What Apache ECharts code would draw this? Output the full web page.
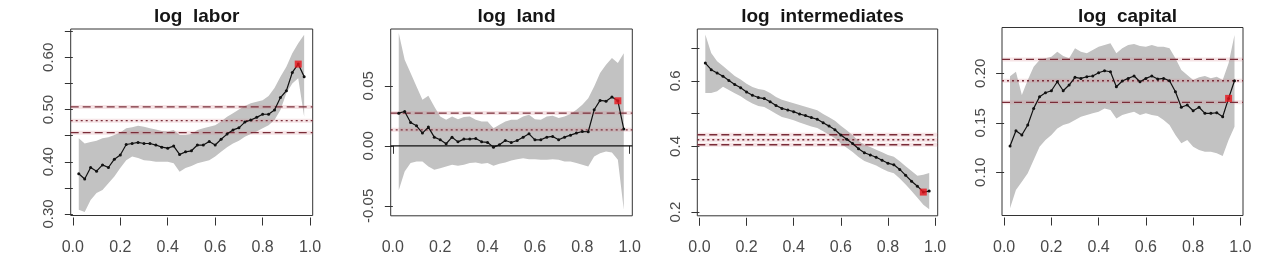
<!DOCTYPE html>
<html>
<head>
<meta charset="utf-8">
<script src="https://cdn.jsdelivr.net/npm/echarts@6/dist/echarts.min.js"></script>
<style>
  html, body { margin: 0; padding: 0; background: #fff; }
  #chart { width: 1273px; height: 266px; }
</style>
</head>
<body>
<div id="chart"></div>
<script>
// quantile grid (x) shared by the four panels
const quantiles = [0.025, 0.05, 0.075, 0.1, 0.125, 0.15, 0.175, 0.2, 0.225, 0.25,
  0.275, 0.3, 0.325, 0.35, 0.375, 0.4, 0.425, 0.45, 0.475, 0.5,
  0.525, 0.55, 0.575, 0.6, 0.625, 0.65, 0.675, 0.7, 0.725, 0.75,
  0.775, 0.8, 0.825, 0.85, 0.875, 0.9, 0.925, 0.95, 0.975];
const highlightIndex = 37; // red square at q = 0.95
const xTicks = [0, 0.2, 0.4, 0.6, 0.8, 1.0];

// log labor
const laborMedian = [0.377, 0.367, 0.389, 0.382, 0.394, 0.389, 0.405, 0.413, 0.433, 0.435,
  0.437, 0.435, 0.435, 0.432, 0.428, 0.426, 0.430, 0.414, 0.419, 0.421,
  0.432, 0.432, 0.439, 0.432, 0.443, 0.453, 0.461, 0.465, 0.476, 0.480,
  0.485, 0.491, 0.491, 0.499, 0.523, 0.536, 0.571, 0.587, 0.563];
const laborUpper = [0.445, 0.435, 0.438, 0.440, 0.445, 0.447, 0.451, 0.456, 0.464, 0.466,
  0.469, 0.467, 0.464, 0.462, 0.459, 0.458, 0.461, 0.451, 0.451, 0.453,
  0.461, 0.464, 0.467, 0.470, 0.477, 0.486, 0.493, 0.500, 0.507, 0.512,
  0.515, 0.518, 0.526, 0.541, 0.563, 0.582, 0.608, 0.627, 0.643];
const laborLower = [0.308, 0.304, 0.327, 0.340, 0.346, 0.359, 0.372, 0.388, 0.403, 0.410,
  0.407, 0.403, 0.402, 0.400, 0.400, 0.400, 0.397, 0.381, 0.388, 0.392,
  0.397, 0.400, 0.403, 0.410, 0.419, 0.428, 0.435, 0.440, 0.448, 0.453,
  0.458, 0.464, 0.470, 0.480, 0.499, 0.531, 0.550, 0.560, 0.486];
const laborDashed = [0.5049, 0.4557];
const laborDotted = [0.4786];
const laborSolid = [];
const laborYTicks = [0.30, 0.35, 0.40, 0.45, 0.50, 0.55, 0.60, 0.65];
const laborYLabels = [0.30, 0.40, 0.50, 0.60];

// log land
const landMedian = [0.0272, 0.0286, 0.0194, 0.0167, 0.0106, 0.0156, 0.0072, 0.0050, 0.0017, 0.0072,
  0.0033, 0.0056, 0.0056, 0.0061, 0.0033, 0.0028, -0.0011, 0.0008, 0.0044, 0.0028,
  0.0044, 0.0072, 0.0100, 0.0050, 0.0050, 0.0072, 0.0078, 0.0050, 0.0072, 0.0089,
  0.0106, 0.0119, 0.0117, 0.0300, 0.0378, 0.0372, 0.0406, 0.0375, 0.0140];
const landUpper = [0.0940, 0.0717, 0.0606, 0.0494, 0.0383, 0.0417, 0.0328, 0.0244, 0.0217, 0.0244,
  0.0222, 0.0239, 0.0244, 0.0217, 0.0203, 0.0203, 0.0147, 0.0175, 0.0203, 0.0217,
  0.0217, 0.0244, 0.0258, 0.0222, 0.0217, 0.0244, 0.0250, 0.0231, 0.0244, 0.0264,
  0.0300, 0.0342, 0.0397, 0.0494, 0.0606, 0.0675, 0.0731, 0.0689, 0.0772];
const landLower = [-0.0370, -0.0214, -0.0144, -0.0131, -0.0131, -0.0172, -0.0200, -0.0186, -0.0172, -0.0158,
  -0.0167, -0.0158, -0.0144, -0.0139, -0.0150, -0.0144, -0.0167, -0.0150, -0.0139, -0.0122,
  -0.0111, -0.0103, -0.0111, -0.0111, -0.0117, -0.0117, -0.0111, -0.0117, -0.0131, -0.0131,
  -0.0144, -0.0158, -0.0172, -0.0089, -0.0061, -0.0047, -0.0056, -0.0117, -0.0533];
const landDashed = [0.0273];
const landDotted = [0.0133];
const landSolid = [0];
const landYTicks = [-0.05, 0, 0.05];
const landYLabels = [-0.05, 0, 0.05];

// log intermediates
const intermMedian = [0.654, 0.634, 0.624, 0.614, 0.601, 0.589, 0.579, 0.566, 0.556, 0.549,
  0.546, 0.536, 0.525, 0.516, 0.511, 0.506, 0.499, 0.494, 0.488, 0.483,
  0.472, 0.462, 0.451, 0.435, 0.422, 0.409, 0.393, 0.381, 0.374, 0.367,
  0.358, 0.349, 0.344, 0.330, 0.312, 0.294, 0.279, 0.261, 0.264];
const intermUpper = [0.741, 0.685, 0.660, 0.645, 0.630, 0.615, 0.604, 0.591, 0.581, 0.575,
  0.572, 0.563, 0.551, 0.542, 0.537, 0.532, 0.526, 0.521, 0.516, 0.510,
  0.499, 0.489, 0.478, 0.463, 0.449, 0.434, 0.417, 0.405, 0.398, 0.390,
  0.382, 0.374, 0.369, 0.355, 0.340, 0.325, 0.311, 0.314, 0.319];
const intermLower = [0.563, 0.563, 0.568, 0.582, 0.572, 0.562, 0.553, 0.541, 0.531, 0.523,
  0.520, 0.510, 0.500, 0.490, 0.485, 0.480, 0.473, 0.467, 0.461, 0.456,
  0.446, 0.436, 0.425, 0.409, 0.396, 0.383, 0.368, 0.356, 0.349, 0.342,
  0.332, 0.324, 0.318, 0.302, 0.284, 0.264, 0.244, 0.222, 0.209];
const intermDashed = [0.4357, 0.4052];
const intermDotted = [0.4204];
const intermSolid = [];
const intermYTicks = [0.2, 0.3, 0.4, 0.5, 0.6, 0.7];
const intermYLabels = [0.2, 0.4, 0.6];

// log capital
const capitalMedian = [0.1266, 0.1420, 0.1377, 0.1478, 0.1646, 0.1764, 0.1804, 0.1824, 0.1915, 0.1824,
  0.1882, 0.1960, 0.1949, 0.1966, 0.1973, 0.2006, 0.2026, 0.2016, 0.1865, 0.1922,
  0.1949, 0.1973, 0.1915, 0.1949, 0.1973, 0.1942, 0.1949, 0.1925, 0.1814, 0.1657,
  0.1680, 0.1622, 0.1657, 0.1596, 0.1596, 0.1602, 0.1562, 0.1747, 0.1925];
const capitalUpper = [0.1970, 0.2016, 0.1781, 0.1932, 0.2067, 0.2134, 0.2152, 0.2168, 0.2218, 0.2175,
  0.2152, 0.2253, 0.2218, 0.2202, 0.2235, 0.2269, 0.2286, 0.2303, 0.2202, 0.2253,
  0.2286, 0.2296, 0.2276, 0.2269, 0.2286, 0.2269, 0.2269, 0.2253, 0.2152, 0.2033,
  0.1983, 0.1932, 0.1960, 0.1973, 0.1950, 0.1966, 0.1932, 0.2101, 0.2387];
const capitalLower = [0.0636, 0.0821, 0.0905, 0.0990, 0.1124, 0.1259, 0.1326, 0.1377, 0.1444, 0.1478,
  0.1495, 0.1528, 0.1562, 0.1579, 0.1596, 0.1612, 0.1646, 0.1629, 0.1545, 0.1579,
  0.1596, 0.1612, 0.1579, 0.1596, 0.1579, 0.1569, 0.1528, 0.1478, 0.1377, 0.1293,
  0.1326, 0.1259, 0.1225, 0.1208, 0.1208, 0.1192, 0.1165, 0.1326, 0.1461];
const capitalDashed = [0.2141, 0.1707];
const capitalDotted = [0.1925];
const capitalSolid = [];
const capitalYTicks = [0.10, 0.15, 0.20];
const capitalYLabels = [0.10, 0.15, 0.20];

const panels = [
  { title: 'log  labor', median: laborMedian, upper: laborUpper, lower: laborLower,
    dashed: laborDashed, dotted: laborDotted, solid: laborSolid,
    yTicks: laborYTicks, yLabels: laborYLabels, digits: 2,
    yMin: 0.2971, yMax: 0.6542, box: { left: 70.7, width: 242, top: 29, height: 186.5 } },
  { title: 'log  land', median: landMedian, upper: landUpper, lower: landLower,
    dashed: landDashed, dotted: landDotted, solid: landSolid,
    yTicks: landYTicks, yLabels: landYLabels, digits: 2,
    yMin: -0.0583, yMax: 0.0973, box: { left: 390.7, width: 241.6, top: 29, height: 186.8 } },
  { title: 'log  intermediates', median: intermMedian, upper: intermUpper, lower: intermLower,
    dashed: intermDashed, dotted: intermDotted, solid: intermSolid,
    yTicks: intermYTicks, yLabels: intermYLabels, digits: 1,
    yMin: 0.1887, yMax: 0.7579, box: { left: 697.3, width: 240.4, top: 29, height: 186.8 } },
  { title: 'log  capital', median: capitalMedian, upper: capitalUpper, lower: capitalLower,
    dashed: capitalDashed, dotted: capitalDotted, solid: capitalSolid,
    yTicks: capitalYTicks, yLabels: capitalYLabels, digits: 2,
    yMin: 0.0564, yMax: 0.2463, box: { left: 1002, width: 241, top: 27.5, height: 188 } }
];

const xMin = -0.009, xMax = 1.011;
const FONT = '"Liberation Sans", Arial, sans-serif';
const AXIS_COLOR = '#333';
const LABEL_COLOR = '#4a4a4a';

const chart = echarts.init(document.getElementById('chart'));

const grids = [], xAxes = [], yAxes = [], titles = [], series = [];

// horizontal reference line across the whole panel
function refLine(i, v, kind) {
  const data = [[xMin, v], [xMax, v]];
  const out = [];
  if (kind !== 'solid') {
    // faint rose halo under the red lines
    out.push({ type: 'line', xAxisIndex: i, yAxisIndex: i, data, symbol: 'none', silent: true, z: 2,
      lineStyle: { color: 'rgba(214,130,142,0.22)', width: 4 } });
  }
  out.push({
    type: 'line', xAxisIndex: i, yAxisIndex: i, data, symbol: 'none', silent: true, z: 3,
    lineStyle: kind === 'solid'
      ? { color: '#111', width: 1.2 }
      : { color: '#7a2c38', width: 1.3, type: kind === 'dashed' ? [8, 4] : [2, 3] }
  });
  return out;
}

panels.forEach((p, i) => {
  const b = p.box;
  grids.push({ left: b.left, top: b.top, width: b.width, height: b.height,
    show: true, borderColor: AXIS_COLOR, borderWidth: 1, backgroundColor: 'transparent' });
  titles.push({ text: p.title, left: b.left + b.width / 2, top: 2, textAlign: 'center',
    textStyle: { fontFamily: FONT, fontSize: 19, fontWeight: 'bold', color: '#151515' } });

  xAxes.push({
    type: 'value', gridIndex: i, min: xMin, max: xMax, offset: 2,
    axisLine: { show: false },
    splitLine: { show: false },
    axisTick: { show: true, length: 8, customValues: xTicks, lineStyle: { color: AXIS_COLOR } },
    axisLabel: { customValues: xTicks, margin: 22, fontFamily: FONT, fontSize: 16, color: LABEL_COLOR,
      formatter: v => v.toFixed(1) }
  });
  yAxes.push({
    type: 'value', gridIndex: i, min: p.yMin, max: p.yMax,
    axisLine: { show: false },
    splitLine: { show: false },
    axisTick: { show: true, length: 8, customValues: p.yTicks, lineStyle: { color: AXIS_COLOR } },
    axisLabel: { customValues: p.yLabels, rotate: 90, align: 'center', verticalAlign: 'bottom',
      margin: 14, fontFamily: FONT, fontSize: 15, color: LABEL_COLOR,
      formatter: v => v.toFixed(p.digits) }
  });

  // confidence band as one polygon
  series.push({
    type: 'custom', xAxisIndex: i, yAxisIndex: i, silent: true, z: 1, clip: true,
    data: quantiles.map((q, k) => [q, p.lower[k], p.upper[k]]),
    renderItem: (params, api) => {
      if (params.dataIndex !== 0) return null;
      const pts = [];
      quantiles.forEach((q, k) => pts.push(api.coord([q, p.upper[k]])));
      for (let k = quantiles.length - 1; k >= 0; k--) pts.push(api.coord([quantiles[k], p.lower[k]]));
      return { type: 'polygon', shape: { points: pts }, style: { fill: '#c2c2c2' } };
    }
  });

  p.dashed.forEach(v => series.push(...refLine(i, v, 'dashed')));
  p.dotted.forEach(v => series.push(...refLine(i, v, 'dotted')));
  p.solid.forEach(v => series.push(...refLine(i, v, 'solid')));

  series.push({
    type: 'line', xAxisIndex: i, yAxisIndex: i, z: 4, silent: true,
    data: quantiles.map((q, k) => [q, p.median[k]]),
    symbol: 'circle', symbolSize: 3, showSymbol: true,
    itemStyle: { color: '#111' },
    lineStyle: { color: '#111', width: 1.2 }
  });
  series.push({
    type: 'scatter', xAxisIndex: i, yAxisIndex: i, z: 5, silent: true,
    data: [[quantiles[highlightIndex], p.median[highlightIndex]]],
    symbol: 'rect', symbolSize: 7, itemStyle: { color: '#e8141c' }
  });
});

chart.setOption({
  animation: false,
  backgroundColor: '#fff',
  title: titles,
  grid: grids,
  xAxis: xAxes,
  yAxis: yAxes,
  series
});
</script>
</body>
</html>
